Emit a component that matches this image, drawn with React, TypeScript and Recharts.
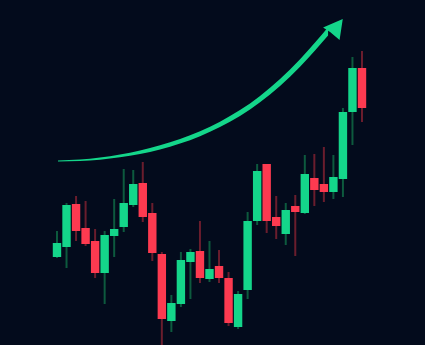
import React from "react";
import { ComposedChart, Bar, Area, Scatter, XAxis, YAxis } from "recharts";

// Candles: index, open, high, low, close
const idx = [0,1,2,3,4,5,6,7,8,9,10,11,12,13,14,15,16,17,18,19,20,21,22,23,24,25,26,27,28,29,30,31,32];
const opens = [108.8,109.8,114.1,111.7,110.4,107.2,110.9,111.8,114.0,116.2,113.2,109.1,102.4,104.1,108.3,109.4,106.6,107.9,106.7,101.8,105.5,112.4,118.1,112.8,111.1,113.9,113.2,116.7,116.1,115.3,116.6,123.3,127.7];
const highs = [111.4,114.2,114.9,114.4,111.6,111.4,114.6,117.6,117.5,118.3,114.2,109.3,105.0,109.3,109.6,112.4,110.4,109.5,107.3,105.4,113.3,118.1,118.1,114.9,114.2,115.0,119.0,119.1,119.8,119.0,123.7,128.8,129.4];
const lows = [108.7,107.7,110.4,109.9,106.7,104.1,108.8,111.3,113.8,112.3,108.4,99.5,101.3,103.8,104.6,106.2,106.3,106.2,101.9,101.6,104.6,112.0,111.2,110.6,110.0,108.9,113.1,113.9,114.3,114.6,114.8,120.0,122.3];
const closes = [110.2,114.0,111.4,110.1,107.2,111.0,111.6,114.2,116.1,112.8,109.2,102.6,104.2,108.5,109.3,106.7,107.6,106.7,102.2,105.1,112.4,117.4,112.4,111.9,113.5,113.3,117.1,115.5,115.3,116.8,123.3,127.7,123.7];

// Trend arrow: position (index units), centre value, thickness (value units)
const arrowI = [0.105,2.41,4.51,6.61,8.71,10.81,12.91,15.01,17.10,19.20,21.30,23.40,25.50,27.07,28.44];
const arrowV = [118.40,118.47,118.64,118.91,119.28,119.76,120.37,121.13,122.06,123.20,124.59,126.25,128.20,129.85,131.37];
const arrowW = [0.08,0.14,0.21,0.29,0.36,0.42,0.46,0.50,0.54,0.59,0.64,0.70,0.76,0.80,0.83];
const arrowHeadI = [28.65];
const arrowHeadV = [131.3];

const candles = idx.map((i, k) => ({ i, o: opens[k], h: highs[k], l: lows[k], c: closes[k] }));
const arrowData = arrowI.map((i, k) => ({ i, lo: arrowV[k] - arrowW[k] / 2, hi: arrowV[k] + arrowW[k] / 2 }));
const headData = arrowHeadI.map((i, k) => ({ i, v: arrowHeadV[k] }));

const BG = "#030b1c";
const GREEN = "#14d68a";
const RED = "#fd3a50";
const GREEN_WICK = "#0d5a3e";
const RED_WICK = "#6a1d2d";
const BODY_W = 8.4;

const Candle = (props: any) => {
  const { x, y, width, height, payload } = props;
  if (!payload) return null;
  const { o, h, l, c } = payload;
  const top = Math.min(y, y + height);
  const hh = Math.abs(height);
  const k = h - l > 0 ? hh / (h - l) : 0;
  const bTop = top + (h - Math.max(o, c)) * k;
  const bBot = top + (h - Math.min(o, c)) * k;
  const up = c >= o;
  const cx = x + width / 2;
  return (
    <g>
      <rect x={cx - 1} y={top} width={2} height={hh} fill={up ? GREEN_WICK : RED_WICK} />
      <rect x={cx - BODY_W / 2} y={bTop} width={BODY_W} height={Math.max(1, bBot - bTop)} fill={up ? GREEN : RED} />
    </g>
  );
};

const Head = (props: any) => {
  const { cx, cy } = props;
  if (cx == null || cy == null) return null;
  const d = `M ${cx + 12.7} ${cy - 13} L ${cx + 9.5} ${cy + 8} L ${cx} ${cy} L ${cx - 7} ${cy - 4.5} Z`;
  return <path d={d} fill={GREEN} />;
};

export default function App() {
  return (
    <div style={{ position: "absolute", left: 0, top: 0, width: 425, height: 345, background: BG }}>
      <ComposedChart width={425} height={345} data={candles} margin={{ top: 0, right: 0, bottom: 0, left: 0 }}>
        <XAxis type="number" dataKey="i" domain={[-5.98, 38.61]} hide allowDataOverflow />
        <YAxis type="number" domain={[100, 134.5]} hide allowDataOverflow />
        <Bar dataKey={(d: any) => [d.l, d.h]} barSize={8} shape={<Candle />} isAnimationActive={false} />
        <Area
          data={arrowData}
          dataKey={(d: any) => [d.lo, d.hi]}
          type="monotone"
          stroke="none"
          fill={GREEN}
          fillOpacity={1}
          dot={false}
          activeDot={false}
          isAnimationActive={false}
        />
        <Scatter data={headData} dataKey="v" shape={<Head />} isAnimationActive={false} />
      </ComposedChart>
    </div>
  );
}
